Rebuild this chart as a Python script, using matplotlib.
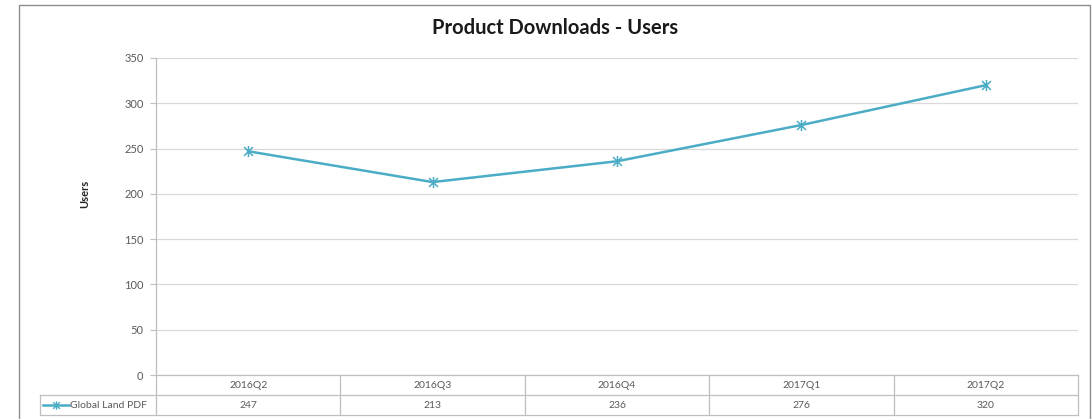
import matplotlib
matplotlib.use("Agg")
import matplotlib.pyplot as plt
from matplotlib.patches import Rectangle
from matplotlib.lines import Line2D
from matplotlib.path import Path
import matplotlib.transforms as mtransforms

# Quarterly download counts
quarters = ["2016Q2", "2016Q3", "2016Q4", "2017Q1", "2017Q2"]
users = [247, 213, 236, 276, 320]
series_name = "Global Land PDF"
y_ticks = [0, 50, 100, 150, 200, 250, 300, 350]

plt.rcParams["font.family"] = ["Lato", "DejaVu Sans"]

W, H = 1092, 419
fig = plt.figure(figsize=(W / 100, H / 100), dpi=100)
fig.patch.set_facecolor("white")

def fx(px):
    return px / W

def fy(py):
    return 1 - py / H

# plot area in pixel terms
L, R, T, B = 156, 1078, 58, 375
ax = fig.add_axes([fx(L), fy(B), fx(R) - fx(L), fy(T) - fy(B)])

line_color = "#4BACC6"
grid_color = "#D9D9D9"
axis_color = "#BFBFBF"
text_color = "#595959"

# star marker: an X crossed by a vertical stroke
star = Path([(-1, -1), (1, 1), (-1, 1), (1, -1), (0, -1.25), (0, 1.25)],
            [Path.MOVETO, Path.LINETO, Path.MOVETO, Path.LINETO,
             Path.MOVETO, Path.LINETO])

x = list(range(len(quarters)))
ax.plot(x, users, color=line_color, lw=1.8, marker=star, markersize=8,
        markeredgewidth=1.1, markeredgecolor=line_color, zorder=3)

ax.set_xlim(-0.5, len(quarters) - 0.5)
ax.set_ylim(0, 350)
ax.set_yticks(y_ticks)
ax.set_yticklabels([str(v) for v in y_ticks], fontsize=8, color=text_color)
ax.tick_params(axis="y", length=4, width=0.8, color=axis_color, pad=5)
ax.set_xticks([])
ax.grid(axis="y", color=grid_color, lw=0.9)
ax.set_axisbelow(True)
for s in ["top", "right", "bottom"]:
    ax.spines[s].set_visible(False)
ax.spines["left"].set_color(axis_color)
ax.spines["left"].set_linewidth(0.9)

ax.set_ylabel("Users", fontsize=8, fontweight="bold", color="#262626")
ax.yaxis.set_label_coords(fx(90) - fx(L), 0.58, transform=None)
ax.yaxis.label.set_transform(
    mtransforms.blended_transform_factory(fig.transFigure, ax.transAxes))
ax.yaxis.label.set_position((fx(90), 0.57))

# title centred on the chart frame
fig.text(fx(555), fy(28), "Product Downloads - Users", ha="center", va="center",
         fontsize=14.5, fontweight="bold", color="#1a1a1a")

# outer chart frame
fig.patches.append(Rectangle((fx(19), fy(430)), fx(1090) - fx(19), fy(5) - fy(430),
                             transform=fig.transFigure, fill=False,
                             edgecolor="#8C8C8C", lw=1.0, zorder=0))

# data table below the plot area
trans = mtransforms.blended_transform_factory(ax.transData, fig.transFigure)
row_top, row_mid, row_bot = fy(375), fy(395), fy(415)
tcol = "#BFBFBF"
kw = dict(transform=fig.transFigure, color=tcol, lw=0.9, clip_on=False)
fig.lines.append(Line2D([fx(L), fx(R)], [row_top, row_top], **kw))
fig.lines.append(Line2D([fx(40), fx(R)], [row_mid, row_mid], **kw))
fig.lines.append(Line2D([fx(40), fx(R)], [row_bot, row_bot], **kw))
fig.lines.append(Line2D([fx(40), fx(40)], [row_mid, row_bot], **kw))
for i in range(len(quarters) + 1):
    xb = i - 0.5
    fig.lines.append(Line2D([xb, xb], [row_top, row_bot], transform=trans,
                            color=tcol, lw=0.9, clip_on=False))
for i, (q, v) in enumerate(zip(quarters, users)):
    fig.text(i, (row_top + row_mid) / 2, q, transform=trans, ha="center",
             va="center", fontsize=7.5, color=text_color)
    fig.text(i, (row_mid + row_bot) / 2, str(v), transform=trans, ha="center",
             va="center", fontsize=7.5, color=text_color)

# legend key in the table
ky = (row_mid + row_bot) / 2
fig.lines.append(Line2D([fx(43), fx(69)], [ky, ky], transform=fig.transFigure,
                        color=line_color, lw=1.8))
fig.lines.append(Line2D([fx(56)], [ky], transform=fig.transFigure, color=line_color,
                        marker=star, markersize=6, markeredgewidth=1.0, lw=0))
fig.text(fx(70), ky, series_name, ha="left", va="center", fontsize=7.5,
         color=text_color)

fig.savefig("out.png", dpi=100, facecolor="white")
